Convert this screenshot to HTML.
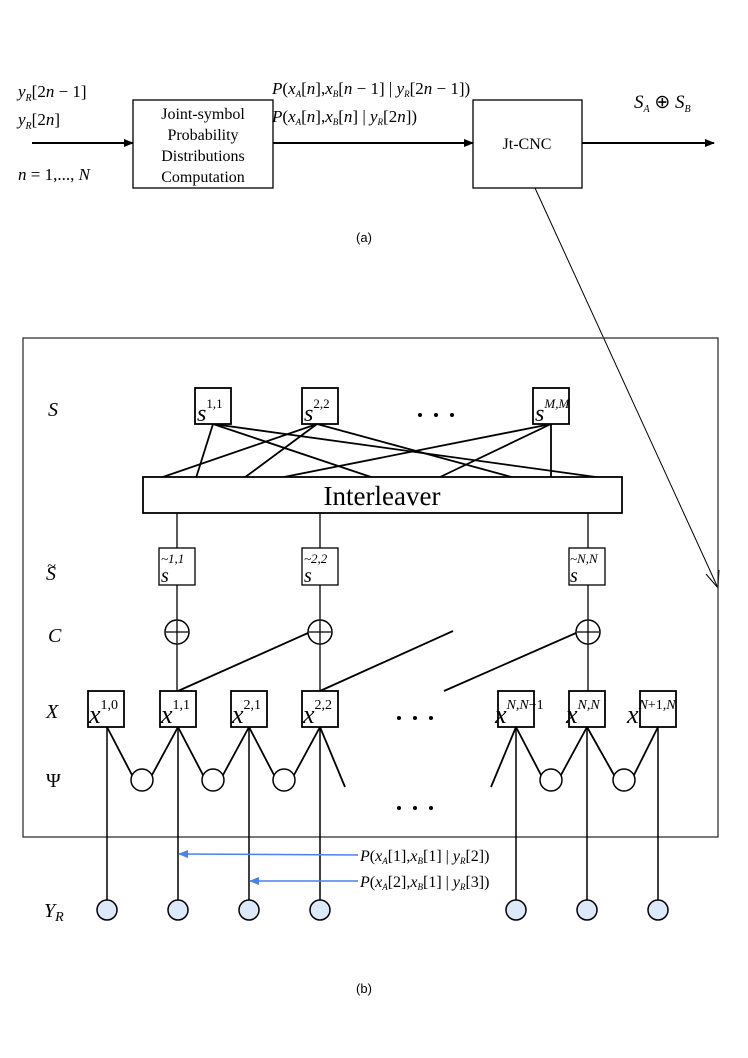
<!DOCTYPE html>
<html><head><meta charset="utf-8"><style>
html,body{margin:0;padding:0;background:#fff;}
svg{display:block;}
.s{font-family:"Liberation Serif",serif;}
.i{font-family:"Liberation Serif",serif;font-style:italic;}
.a{font-family:"Liberation Sans",sans-serif;}
</style></head><body>
<svg width="748" height="1058" viewBox="0 0 748 1058" xmlns="http://www.w3.org/2000/svg">
<defs>
<marker id="ah" markerWidth="10" markerHeight="8" refX="9" refY="4" orient="auto" markerUnits="userSpaceOnUse"><path d="M0,0 L10,4 L0,8 z" fill="#000"/></marker>
<marker id="bh" markerWidth="10" markerHeight="8" refX="9" refY="4" orient="auto" markerUnits="userSpaceOnUse"><path d="M0,0 L10,4 L0,8 z" fill="#4a80f0"/></marker>
</defs>
<!-- (a) -->
<g stroke="#000" stroke-width="1.3" fill="none">
<rect x="133" y="100" width="140" height="88"/>
<rect x="473" y="100" width="109" height="88"/>
<line x1="32" y1="143" x2="133" y2="143" stroke-width="2" marker-end="url(#ah)"/>
<line x1="273" y1="143" x2="473" y2="143" stroke-width="2" marker-end="url(#ah)"/>
<line x1="582" y1="143" x2="714" y2="143" stroke-width="2" marker-end="url(#ah)"/>
<line x1="535" y1="188" x2="718" y2="588" stroke-width="1"/>
<polyline points="706,574 718,588 719,570" stroke-width="1"/>
</g>
<g class="s" font-size="16" text-anchor="middle">
<text x="203" y="119">Joint-symbol</text>
<text x="203" y="140">Probability</text>
<text x="203" y="161">Distributions</text>
<text x="203" y="182">Computation</text>
<text x="527" y="149">Jt-CNC</text>
</g>
<g class="s" font-size="17">
<text x="18" y="97"><tspan class="i">y</tspan><tspan font-size="10" class="i" dy="4">R</tspan><tspan dy="-4">[2</tspan><tspan class="i">n</tspan> − 1]</text>
<text x="18" y="125"><tspan class="i">y</tspan><tspan font-size="10" class="i" dy="4">R</tspan><tspan dy="-4">[2</tspan><tspan class="i">n</tspan>]</text>
<text x="18" y="180"><tspan class="i">n</tspan> = 1,..., <tspan class="i">N</tspan></text>
<text x="272" y="94"><tspan class="i">P</tspan>(<tspan class="i">x</tspan><tspan font-size="9" class="i" dy="3">A</tspan><tspan dy="-3">[</tspan><tspan class="i">n</tspan>],<tspan class="i">x</tspan><tspan font-size="9" class="i" dy="3">B</tspan><tspan dy="-3">[</tspan><tspan class="i">n</tspan> − 1] | <tspan class="i">y</tspan><tspan font-size="9" class="i" dy="3">R</tspan><tspan dy="-3">[2</tspan><tspan class="i">n</tspan> − 1])</text>
<text x="272" y="122"><tspan class="i">P</tspan>(<tspan class="i">x</tspan><tspan font-size="9" class="i" dy="3">A</tspan><tspan dy="-3">[</tspan><tspan class="i">n</tspan>],<tspan class="i">x</tspan><tspan font-size="9" class="i" dy="3">B</tspan><tspan dy="-3">[</tspan><tspan class="i">n</tspan>] | <tspan class="i">y</tspan><tspan font-size="9" class="i" dy="3">R</tspan><tspan dy="-3">[2</tspan><tspan class="i">n</tspan>])</text>
<text x="634" y="108" font-size="19"><tspan class="i">S</tspan><tspan font-size="10" class="i" dy="4">A</tspan><tspan dy="-4"> ⊕ </tspan><tspan class="i">S</tspan><tspan font-size="10" class="i" dy="4">B</tspan></text>
</g>
<text x="364" y="242" class="a" font-size="13" text-anchor="middle">(a)</text>

<!-- (b) -->
<rect x="23" y="338" width="695" height="499" fill="none" stroke="#333" stroke-width="1.3"/>
<g class="i" font-size="20">
<text x="48" y="416">S</text>
<text x="46" y="580">S<tspan class="s" x="47" dy="-9" font-size="16">~</tspan></text>
<text x="48" y="642">C</text>
<text x="46" y="718">X</text>
<text x="46" y="787" class="s" font-style="normal">Ψ</text>
<text x="44" y="917">Y<tspan font-size="14" dy="4">R</tspan></text>
</g>
<g stroke="#000" stroke-width="1.8" fill="none">
<line x1="213" y1="424" x2="196" y2="478"/>
<line x1="213" y1="424" x2="374" y2="478"/>
<line x1="213" y1="424" x2="603" y2="478"/>
<line x1="317" y1="424" x2="160" y2="478"/>
<line x1="317" y1="424" x2="244" y2="478"/>
<line x1="317" y1="424" x2="515" y2="478"/>
<line x1="551" y1="424" x2="279" y2="478"/>
<line x1="551" y1="424" x2="438" y2="478"/>
<line x1="551" y1="424" x2="551" y2="478"/>
</g>
<g stroke="#000" stroke-width="1.8" fill="#fff">
<rect x="195" y="388" width="36" height="36"/>
<rect x="302" y="388" width="36" height="36"/>
<rect x="533" y="388" width="36" height="36"/>
<rect x="143" y="477" width="479" height="36"/>
</g>
<text x="382" y="505" class="s" font-size="27" text-anchor="middle">Interleaver</text>
<g fill="#000"><circle cx="420" cy="415" r="2"/><circle cx="436" cy="415" r="2"/><circle cx="452" cy="415" r="2"/>
<circle cx="399" cy="718" r="2"/><circle cx="415" cy="718" r="2"/><circle cx="431" cy="718" r="2"/>
<circle cx="399" cy="808" r="2"/><circle cx="415" cy="808" r="2"/><circle cx="431" cy="808" r="2"/></g>
<g class="s" font-size="24">
<text x="197" y="421" class="i">s<tspan class="s" font-style="normal" font-size="13" dy="-13">1,1</tspan></text>
<text x="304" y="421" class="i">s<tspan class="s" font-style="normal" font-size="13" dy="-13">2,2</tspan></text>
<text x="535" y="421" class="i">s<tspan font-size="13" dy="-13">M</tspan><tspan font-size="13">,M</tspan></text>
</g>
<g stroke="#000" stroke-width="1.3" fill="none">
<line x1="177" y1="513" x2="177" y2="620"/>
<line x1="320" y1="513" x2="320" y2="620"/>
<line x1="588" y1="513" x2="588" y2="620"/>
<line x1="177" y1="644" x2="177" y2="691"/>
<line x1="320" y1="644" x2="320" y2="691"/>
<line x1="588" y1="644" x2="588" y2="691"/>
</g>
<g stroke="#000" stroke-width="1.3" fill="#fff">
<rect x="159" y="548" width="36" height="37"/>
<rect x="302" y="548" width="36" height="37"/>
<rect x="569" y="548" width="36" height="37"/>
</g>
<g class="i" font-size="20">
<text x="161" y="582">s</text><text x="161" y="563" class="s" font-size="13">~1,1</text>
<text x="304" y="582">s</text><text x="304" y="563" class="s" font-size="13">~2,2</text>
<text x="570" y="582">s</text><text x="570" y="563" font-size="13">~N,N</text>
</g>
<g stroke="#000" stroke-width="1.8" fill="none">
<line x1="178" y1="691" x2="308" y2="633"/>
<line x1="320" y1="691" x2="453" y2="631"/>
<line x1="444" y1="691" x2="576" y2="633"/>
</g>
<g stroke="#000" stroke-width="1.5" fill="#fff">
<circle cx="177" cy="632" r="12"/><circle cx="320" cy="632" r="12"/><circle cx="588" cy="632" r="12"/>
</g>
<g stroke="#000" stroke-width="1.3">
<line x1="177" y1="621" x2="177" y2="643"/><line x1="166" y1="632" x2="188" y2="632"/>
<line x1="320" y1="621" x2="320" y2="643"/><line x1="309" y1="632" x2="331" y2="632"/>
<line x1="588" y1="621" x2="588" y2="643"/><line x1="577" y1="632" x2="599" y2="632"/>
</g>
<g stroke="#000" stroke-width="1.8" fill="none">
<line x1="107" y1="727" x2="132" y2="775"/><line x1="178" y1="727" x2="152" y2="775"/>
<line x1="178" y1="727" x2="203" y2="775"/><line x1="249" y1="727" x2="223" y2="775"/>
<line x1="249" y1="727" x2="274" y2="775"/><line x1="320" y1="727" x2="294" y2="775"/>
<line x1="320" y1="727" x2="345" y2="787"/>
<line x1="516" y1="727" x2="491" y2="787"/>
<line x1="516" y1="727" x2="541" y2="775"/><line x1="587" y1="727" x2="561" y2="775"/>
<line x1="587" y1="727" x2="614" y2="775"/><line x1="658" y1="727" x2="634" y2="775"/>
</g>
<g stroke="#000" stroke-width="1.5" fill="none">
<line x1="107" y1="727" x2="107" y2="900"/>
<line x1="178" y1="727" x2="178" y2="900"/>
<line x1="249" y1="727" x2="249" y2="900"/>
<line x1="320" y1="727" x2="320" y2="900"/>
<line x1="516" y1="727" x2="516" y2="900"/>
<line x1="587" y1="727" x2="587" y2="900"/>
<line x1="658" y1="727" x2="658" y2="900"/>
</g>
<g stroke="#000" stroke-width="1.5" fill="#fff">
<ellipse cx="142" cy="780" rx="11" ry="11"/><ellipse cx="213" cy="780" rx="11" ry="11"/>
<ellipse cx="284" cy="780" rx="11" ry="11"/><ellipse cx="551" cy="780" rx="11" ry="11"/>
<ellipse cx="624" cy="780" rx="11" ry="11"/>
</g>
<g stroke="#000" stroke-width="1.8" fill="#fff">
<rect x="88" y="691" width="36" height="36"/><rect x="160" y="691" width="36" height="36"/>
<rect x="231" y="691" width="36" height="36"/><rect x="302" y="691" width="36" height="36"/>
<rect x="498" y="691" width="36" height="36"/><rect x="569" y="691" width="36" height="36"/>
<rect x="640" y="691" width="36" height="36"/>
</g>
<g class="i" font-size="26">
<text x="89" y="723">x<tspan class="s" font-style="normal" font-size="14" dy="-14">1,0</tspan></text>
<text x="161" y="723">x<tspan class="s" font-style="normal" font-size="14" dy="-14">1,1</tspan></text>
<text x="232" y="723">x<tspan class="s" font-style="normal" font-size="14" dy="-14">2,1</tspan></text>
<text x="303" y="723">x<tspan class="s" font-style="normal" font-size="14" dy="-14">2,2</tspan></text>
<text x="495" y="723">x<tspan font-size="14" dy="-14">N,N</tspan><tspan class="s" font-style="normal" font-size="14">−1</tspan></text>
<text x="566" y="723">x<tspan font-size="14" dy="-14">N,N</tspan></text>
<text x="627" y="723">x<tspan font-size="14" dy="-14">N</tspan><tspan class="s" font-style="normal" font-size="14">+1,</tspan><tspan font-size="14">N</tspan></text>
</g>
<g stroke="#000" stroke-width="1.5" fill="#dce9f8">
<circle cx="107" cy="910" r="10"/><circle cx="178" cy="910" r="10"/><circle cx="249" cy="910" r="10"/>
<circle cx="320" cy="910" r="10"/><circle cx="516" cy="910" r="10"/><circle cx="587" cy="910" r="10"/>
<circle cx="658" cy="910" r="10"/>
</g>
<g stroke="#4a80f0" stroke-width="1.5">
<line x1="358" y1="855" x2="179" y2="854" marker-end="url(#bh)"/>
<line x1="358" y1="881" x2="250" y2="881" marker-end="url(#bh)"/>
</g>
<g class="s" font-size="16">
<text x="360" y="861"><tspan class="i">P</tspan>(<tspan class="i">x</tspan><tspan font-size="9" class="i" dy="3">A</tspan><tspan dy="-3">[1],</tspan><tspan class="i">x</tspan><tspan font-size="9" class="i" dy="3">B</tspan><tspan dy="-3">[1] | </tspan><tspan class="i">y</tspan><tspan font-size="9" class="i" dy="3">R</tspan><tspan dy="-3">[2])</tspan></text>
<text x="360" y="887"><tspan class="i">P</tspan>(<tspan class="i">x</tspan><tspan font-size="9" class="i" dy="3">A</tspan><tspan dy="-3">[2],</tspan><tspan class="i">x</tspan><tspan font-size="9" class="i" dy="3">B</tspan><tspan dy="-3">[1] | </tspan><tspan class="i">y</tspan><tspan font-size="9" class="i" dy="3">R</tspan><tspan dy="-3">[3])</tspan></text>
</g>
<text x="364" y="993" class="a" font-size="13" text-anchor="middle">(b)</text>
</svg>
</body></html>
